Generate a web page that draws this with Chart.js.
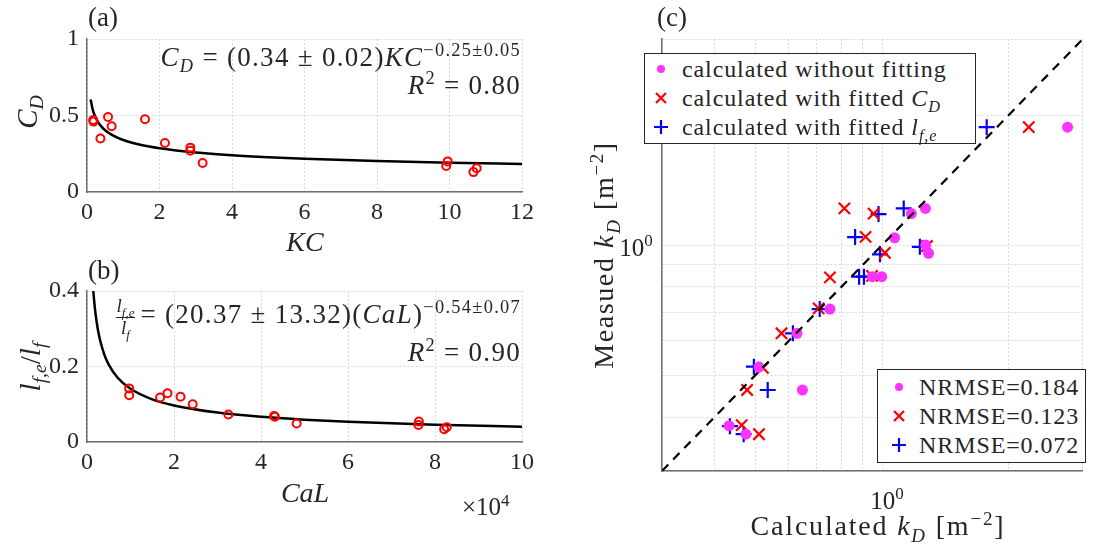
<!DOCTYPE html>
<html>
<head>
<meta charset="utf-8">
<script src="https://cdn.jsdelivr.net/npm/chart.js@4.4.1/dist/chart.umd.min.js"></script>
<style>
  body { margin: 0; background: #fff; width: 1093px; height: 552px; position: relative; overflow: hidden;
         font-family: "Liberation Serif", "DejaVu Serif", serif; color: #262626; }
  canvas { position: absolute; }
  .t { position: absolute; white-space: nowrap; font-size: 24px; line-height: 1; }
  .rot { transform: translate(-50%, -50%) rotate(-90deg); }
  .ctr { transform: translate(-50%, -50%); }
  sub, sup { font-size: 68%; line-height: 0; }
  .eq { font-size: 27px; letter-spacing: 1.3px; }
  .frac { display: inline-block; vertical-align: middle; text-align: center; font-size: 19px; margin-right: 5px; letter-spacing: 0; }
  .frac span { display: block; line-height: 1.05; }
  .frac .num { border-bottom: 1.2px solid #262626; padding: 0 1px 1px; }
  .legend { position: absolute; background: #fff; border: 1.3px solid #262626; }
  .row { position: absolute; left: 0; white-space: nowrap; font-size: 24px; line-height: 1; letter-spacing: 0.9px; }
  .row svg { position: absolute; }
</style>
</head>
<body>

<canvas id="cdChart" width="540" height="230" style="left:0;top:0"></canvas>
<canvas id="lfChart" width="540" height="230" style="left:0;top:250px"></canvas>
<canvas id="kdChart" width="533" height="552" style="left:560px;top:0"></canvas>

<!-- panel (a) -->
<div class="t" style="left:88px;top:4px;font-size:27px">(a)</div>
<div class="t rot" style="left:27px;top:112px;font-size:29px"><i>C</i><sub><i>D</i></sub></div>
<div class="t ctr" style="left:305px;top:242px;font-size:28px"><i>KC</i></div>
<div class="t eq" style="right:572px;top:44px"><i>C</i><sub><i>D</i></sub> = (0.34 ± 0.02)<i>KC</i><sup>−0.25±0.05</sup></div>
<div class="t eq" style="right:572px;top:72px"><i>R</i><sup>2</sup> = 0.80</div>

<!-- panel (b) -->
<div class="t" style="left:88px;top:257px;font-size:27px">(b)</div>
<div class="t rot" style="left:30px;top:367px;font-size:29px"><i>l</i><sub><i>f,e</i></sub>/<i>l</i><sub><i>f</i></sub></div>
<div class="t ctr" style="left:305px;top:493px;font-size:28px"><i>CaL</i></div>
<div class="t" style="left:462px;top:494px;font-size:25px">×10<sup>4</sup></div>
<div class="t eq" style="right:572px;top:296px"><span class="frac"><span class="num"><i>l</i><sub><i>f,e</i></sub></span><span><i>l</i><sub><i>f</i></sub></span></span>= (20.37 ± 13.32)(<i>CaL</i>)<sup>−0.54±0.07</sup></div>
<div class="t eq" style="right:572px;top:339px"><i>R</i><sup>2</sup> = 0.90</div>

<!-- panel (c) -->
<div class="t" style="left:657px;top:4px;font-size:27px">(c)</div>
<div class="t rot" style="left:604px;top:255px;font-size:28px;letter-spacing:1.6px">Measued <i>k</i><sub><i>D</i></sub> [m<sup>−2</sup>]</div>
<div class="t ctr" style="left:878px;top:526px;font-size:28px;letter-spacing:1.8px">Calculated <i>k</i><sub><i>D</i></sub> [m<sup>−2</sup>]</div>
<div class="t ctr" style="left:887px;top:500px;font-size:25px">10<sup>0</sup></div>
<div class="t ctr" style="left:636px;top:247px;font-size:25px">10<sup>0</sup></div>

<div class="legend" style="left:644px;top:53px;width:330px;height:89px">
  <div class="row" style="top:3px"><svg width="30" height="30" style="left:3px;top:-3px"><circle cx="13" cy="15" r="4" fill="#ff33ff"/></svg><span style="position:absolute;left:37px">calculated without fitting</span></div>
  <div class="row" style="top:32px"><svg width="30" height="30" style="left:3px;top:-3px"><path d="M8 10 L18 20 M18 10 L8 20" stroke="#ff0000" stroke-width="2.2"/></svg><span style="position:absolute;left:37px">calculated with fitted <i>C</i><sub><i>D</i></sub></span></div>
  <div class="row" style="top:61px"><svg width="30" height="30" style="left:3px;top:-3px"><path d="M6 15 L20 15 M13 8 L13 22" stroke="#0000ff" stroke-width="2.2"/></svg><span style="position:absolute;left:37px">calculated with fitted <i>l</i><sub><i>f,e</i></sub></span></div>
</div>

<div class="legend" style="left:877px;top:369px;width:207px;height:92px">
  <div class="row" style="top:5px"><svg width="30" height="30" style="left:8px;top:-3px"><circle cx="13" cy="15" r="4" fill="#ff33ff"/></svg><span style="position:absolute;left:41px">NRMSE=0.184</span></div>
  <div class="row" style="top:34px"><svg width="30" height="30" style="left:8px;top:-3px"><path d="M8 10 L18 20 M18 10 L8 20" stroke="#ff0000" stroke-width="2.2"/></svg><span style="position:absolute;left:41px">NRMSE=0.123</span></div>
  <div class="row" style="top:63px"><svg width="30" height="30" style="left:8px;top:-3px"><path d="M6 15 L20 15 M13 8 L13 22" stroke="#0000ff" stroke-width="2.2"/></svg><span style="position:absolute;left:41px">NRMSE=0.072</span></div>
</div>

<script>
// (a) drag coefficient against Keulegan-Carpenter number
const kcValues = [0.17, 0.18, 0.37, 0.58, 0.68, 1.6, 2.15, 2.85, 2.85, 3.19, 9.95, 9.91, 10.66, 10.75];
const cdValues = [0.47, 0.46, 0.35, 0.49, 0.43, 0.475, 0.32, 0.29, 0.27, 0.19, 0.20, 0.17, 0.13, 0.155];
// fitted curve C_D = 0.34 KC^-0.25, sampled
const kcFit = [0.1, 0.15, 0.2, 0.3, 0.4, 0.5, 0.7, 1, 1.5, 2, 3, 4, 5, 6, 8, 10, 12];
const cdFit = [0.605, 0.546, 0.508, 0.459, 0.427, 0.404, 0.372, 0.34, 0.307, 0.286, 0.258, 0.24, 0.227, 0.217, 0.202, 0.191, 0.183];

// (b) effective blade length ratio against Cauchy number (x 10^4)
const calValues = [0.97, 0.97, 1.68, 1.85, 2.15, 2.43, 3.25, 4.30, 4.32, 4.82, 7.63, 7.62, 8.21, 8.27];
const lfRatioValues = [0.142, 0.124, 0.118, 0.129, 0.120, 0.100, 0.073, 0.069, 0.067, 0.049, 0.054, 0.045, 0.034, 0.039];
// fitted curve l_fe/l_f = 20.37 CaL^-0.54, sampled
const calFit = [0.145, 0.17, 0.2, 0.25, 0.3, 0.4, 0.5, 0.7, 1, 1.5, 2, 3, 4, 5, 6, 8, 10];
const lfRatioFit = [0.400, 0.367, 0.336, 0.298, 0.270, 0.231, 0.205, 0.171, 0.141, 0.113, 0.0969, 0.0779, 0.0666, 0.0591, 0.0535, 0.0458, 0.0406];

// (c) measured vs calculated k_D
const measNoFit = [1.875, 1.216, 1.183, 1.040, 1.0, 0.957, 0.845, 0.845, 0.711, 0.625, 0.522, 0.462, 0.382, 0.365];
const calcNoFit = [2.76, 1.268, 1.174, 1.071, 1.270, 1.290, 0.998, 0.948, 0.752, 0.628, 0.510, 0.647, 0.433, 0.475];
const measFitCd = [1.875, 1.216, 1.183, 1.045, 0.960, 0.995, 0.842, 0.849, 0.714, 0.625, 0.520, 0.462, 0.383, 0.365];
const calcFitCd = [2.232, 0.814, 0.955, 0.914, 1.016, 1.279, 0.752, 0.947, 0.707, 0.577, 0.521, 0.478, 0.464, 0.510];
const measFitLf = [1.875, 1.180, 1.216, 1.044, 0.952, 0.991, 0.845, 0.845, 0.711, 0.625, 0.523, 0.462, 0.381, 0.365];
const calcFitLf = [1.773, 0.981, 1.126, 0.863, 0.989, 1.230, 0.882, 0.906, 0.711, 0.614, 0.496, 0.535, 0.435, 0.469];
const logTicks = [0.3, 0.4, 0.5, 0.6, 0.7, 0.8, 0.9, 1, 2, 3];

const tickFont = { family: "'Liberation Serif', serif", size: 24 };
const textColor = "#262626";
const gridStyle = { color: "#d9d9d9", lineWidth: 1, drawTicks: false };
const borderStyle = { color: "#6e6e6e", width: 1.5, dash: [2, 2] };

function toPoints(xs, ys) {
  return xs.map((x, i) => ({ x: x, y: ys[i] }));
}

function tickText(v) {
  return String(Math.round(v * 100) / 100);
}

function fitPanel(canvasId, xs, ys, fitX, fitY, xAxis, yAxis, padding) {
  return new Chart(document.getElementById(canvasId), {
    type: "scatter",
    data: {
      datasets: [
        {
          data: toPoints(xs, ys),
          pointStyle: "circle",
          pointRadius: 4,
          borderColor: "#ff0000",
          backgroundColor: "rgba(0,0,0,0)",
          borderWidth: 2,
        },
        {
          type: "line",
          data: toPoints(fitX, fitY),
          borderColor: "#000",
          borderWidth: 2.5,
          pointRadius: 0,
          cubicInterpolationMode: "monotone",
          fill: false,
        },
      ],
    },
    options: {
      responsive: false,
      animation: false,
      layout: { padding: padding },
      plugins: { legend: { display: false }, tooltip: { enabled: false } },
      scales: {
        x: {
          type: "linear",
          min: xAxis.min,
          max: xAxis.max,
          ticks: { stepSize: xAxis.step, font: tickFont, color: textColor, padding: 6, callback: tickText },
          grid: gridStyle,
          border: borderStyle,
          afterFit: (s) => { s.height = 38; },
        },
        y: {
          type: "linear",
          min: yAxis.min,
          max: yAxis.max,
          ticks: { stepSize: yAxis.step, font: tickFont, color: textColor, padding: 8, callback: tickText },
          grid: gridStyle,
          border: borderStyle,
          afterFit: (s) => { s.width = 87; },
        },
      },
    },
  });
}

fitPanel("cdChart", kcValues, cdValues, kcFit, cdFit,
  { min: 0, max: 12, step: 2 }, { min: 0, max: 1, step: 0.5 },
  { left: 0, right: 18, top: 39, bottom: 0 });

fitPanel("lfChart", calValues, lfRatioValues, calFit, lfRatioFit,
  { min: 0, max: 10, step: 2 }, { min: 0, max: 0.4, step: 0.2 },
  { left: 0, right: 18, top: 41, bottom: 0 });

const logAxis = (size, horizontal) => ({
  type: "logarithmic",
  min: 0.3,
  max: 3,
  afterBuildTicks: (s) => { s.ticks = logTicks.map((v) => ({ value: v })); },
  ticks: { display: false },
  grid: gridStyle,
  border: borderStyle,
  afterFit: (s) => { if (horizontal) s.height = size; else s.width = size; },
});

new Chart(document.getElementById("kdChart"), {
  type: "scatter",
  data: {
    datasets: [
      {
        type: "line",
        data: [{ x: 0.3, y: 0.3 }, { x: 3, y: 3 }],
        borderColor: "#000",
        borderWidth: 2.2,
        borderDash: [9, 7],
        pointRadius: 0,
      },
      {
        data: toPoints(calcNoFit, measNoFit),
        pointStyle: "circle",
        pointRadius: 5.5,
        backgroundColor: "#ff33ff",
        borderColor: "#ff33ff",
        borderWidth: 0,
      },
      {
        data: toPoints(calcFitCd, measFitCd),
        pointStyle: "crossRot",
        pointRadius: 8,
        borderColor: "#ff0000",
        borderWidth: 2.2,
      },
      {
        data: toPoints(calcFitLf, measFitLf),
        pointStyle: "cross",
        pointRadius: 8,
        borderColor: "#0000ff",
        borderWidth: 2.2,
      },
    ],
  },
  options: {
    responsive: false,
    animation: false,
    layout: { padding: { left: 0, right: 1, top: 39, bottom: 0 } },
    plugins: { legend: { display: false }, tooltip: { enabled: false } },
    scales: {
      x: logAxis(81, true),
      y: logAxis(102, false),
    },
  },
});
</script>
</body>
</html>
